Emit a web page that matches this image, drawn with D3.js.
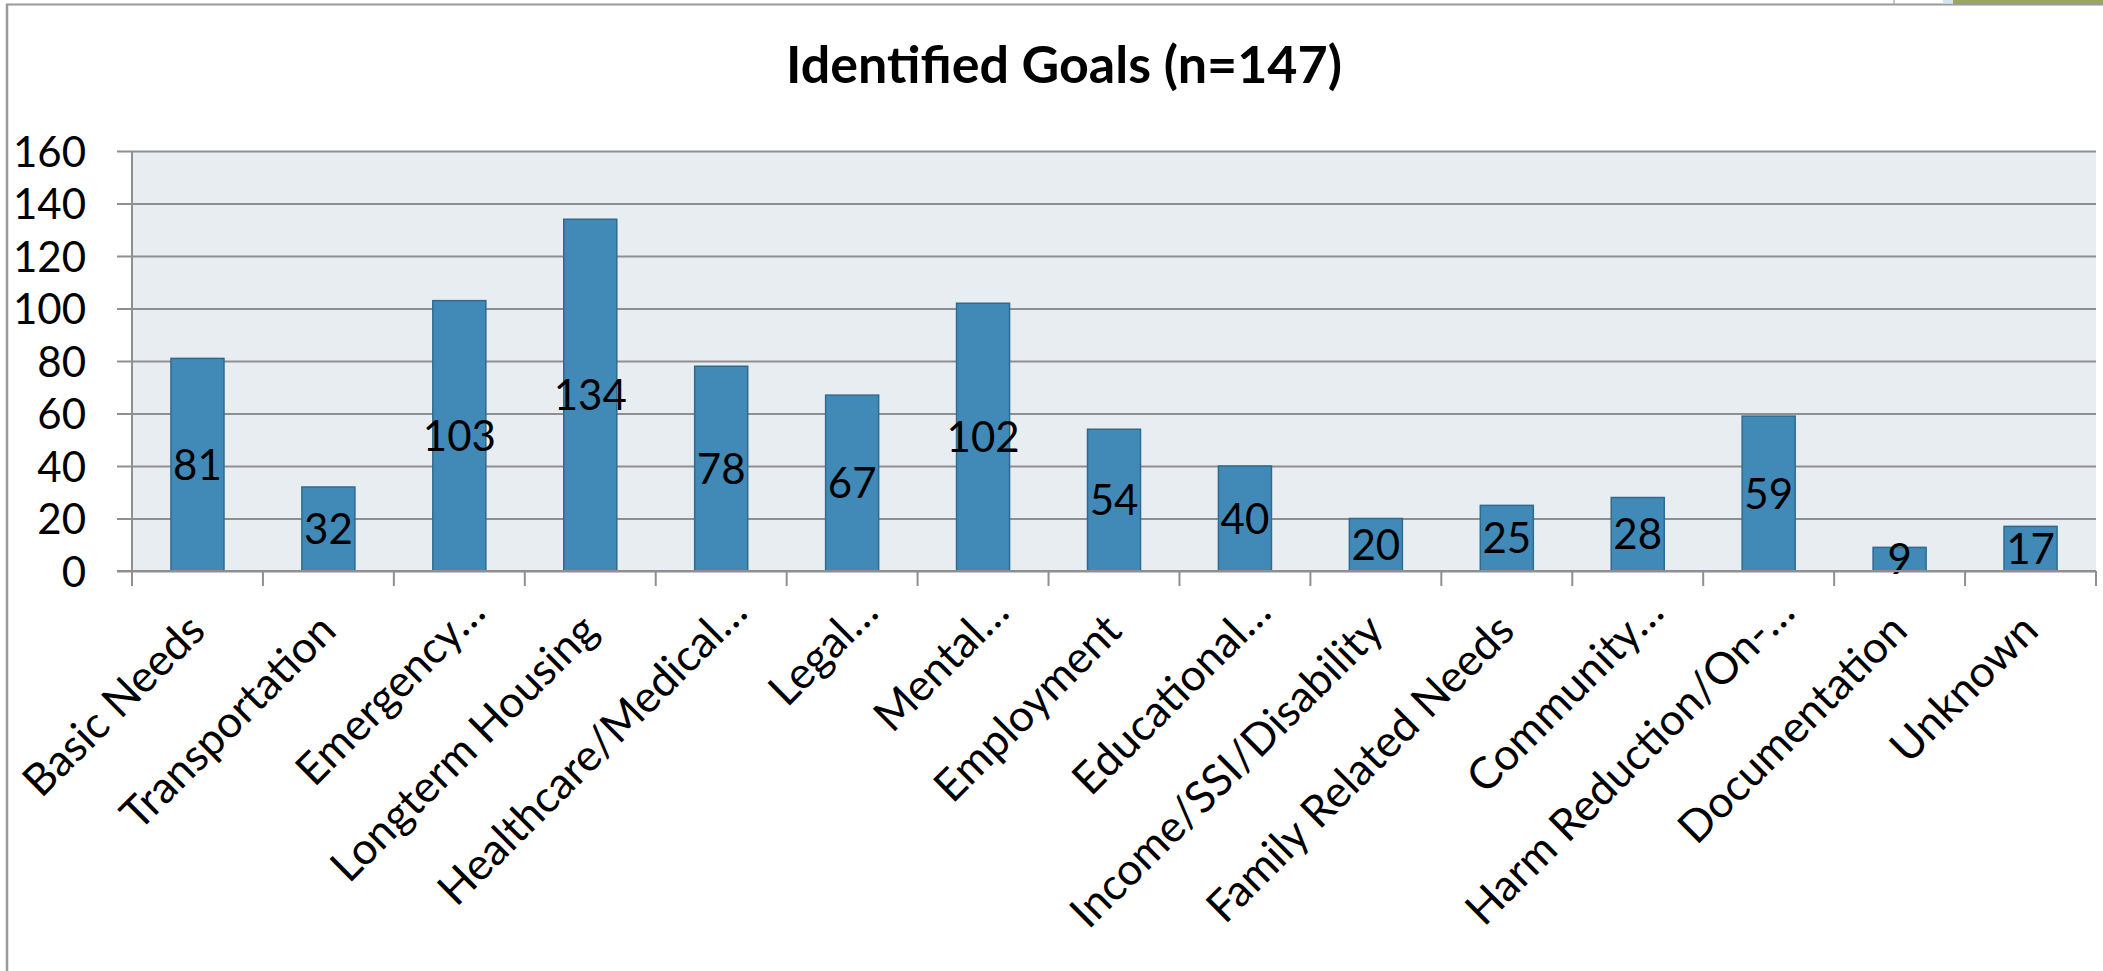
<!DOCTYPE html>
<html>
<head>
<meta charset="utf-8">
<script src="https://cdn.jsdelivr.net/npm/d3@7"></script>
<style>
  body { margin: 0; background: #fff; }
  svg { display: block; }
  text { font-family: Lato, "Open Sans", sans-serif; fill: #000; }
</style>
</head>
<body>
<div id="app"></div>
<script>
const categories = [
  'Basic Needs', 'Transportation', 'Emergency…', 'Longterm Housing',
  'Healthcare/Medical…', 'Legal…', 'Mental…', 'Employment', 'Educational…',
  'Income/SSI/Disability', 'Family Related Needs', 'Community…',
  'Harm Reduction/On-…', 'Documentation', 'Unknown'
]
const goals = [81, 32, 103, 134, 78, 67, 102, 54, 40, 20, 25, 28, 59, 9, 17]
const yTicks = [0, 20, 40, 60, 80, 100, 120, 140, 160]

const W = 2103, H = 971
const plot = { left: 132, right: 2096, top: 151, bottom: 571 }

let svg = d3.select('#app').append('svg')
  .attr('width', W)
  .attr('height', H)

// outer chart frame (left + top edge) and the bits of the sheet above it
svg.append('line')
  .attr('x1', 7).attr('x2', 7).attr('y1', 4).attr('y2', H)
  .style('stroke', '#9a9a9a').style('stroke-width', 2.5)
svg.append('line')
  .attr('x1', 6).attr('x2', W).attr('y1', 4.5).attr('y2', 4.5)
  .style('stroke', '#9a9a9a').style('stroke-width', 2)
svg.append('line')
  .attr('x1', 1894).attr('x2', 1894).attr('y1', 0).attr('y2', 4)
  .style('stroke', '#b0b0b0').style('stroke-width', 1.5)
svg.append('rect')
  .attr('x', 1943).attr('y', 0).attr('width', 10).attr('height', 3.5)
  .style('fill', '#d4e3ee')
svg.append('rect')
  .attr('x', 1953).attr('y', 0).attr('width', W - 1953).attr('height', 4)
  .style('fill', '#9ba75e')

let x = d3.scaleBand()
  .domain(categories)
  .range([plot.left, plot.right])
  .padding(0)

let y = d3.scaleLinear()
  .domain([0, 160])
  .range([plot.bottom, plot.top])

// plot area
svg.append('rect')
  .attr('x', plot.left)
  .attr('y', plot.top)
  .attr('width', plot.right - plot.left)
  .attr('height', plot.bottom - plot.top)
  .style('fill', '#e8edf2')

// gridlines
svg.append('g')
  .attr('class', 'grid')
  .attr('transform', `translate(${plot.left},0)`)
  .call(d3.axisLeft(y).tickValues(yTicks).tickSize(-(plot.right - plot.left)).tickFormat(''))
  .call(g => g.select('.domain').remove())
  .call(g => g.selectAll('line').style('stroke', '#8f8f8f').style('stroke-width', 2))

// y axis
svg.append('g')
  .attr('class', 'y-axis')
  .attr('transform', `translate(${plot.left},0)`)
  .call(d3.axisLeft(y).tickValues(yTicks).tickSize(15).tickPadding(31))
  .call(g => g.select('.domain').remove())
  .call(g => g.selectAll('line').style('stroke', '#8f8f8f').style('stroke-width', 2))
  .call(g => g.selectAll('text')
    .style('font-size', '42px')
    .attr('dy', '0.36em'))

svg.append('line')
  .attr('x1', plot.left).attr('x2', plot.left)
  .attr('y1', plot.top).attr('y2', plot.bottom)
  .style('stroke', '#8f8f8f').style('stroke-width', 2)

// bars
const barW = x.bandwidth() * 0.405
svg.append('g')
  .selectAll('rect')
  .data(goals)
  .enter()
  .append('rect')
  .attr('x', (d, i) => x(categories[i]) + (x.bandwidth() - barW) / 2)
  .attr('y', d => y(d))
  .attr('width', barW)
  .attr('height', d => y(0) - y(d))
  .style('fill', '#4189b6')
  .style('stroke', '#2f6b8f')
  .style('stroke-width', 1.5)

// value labels, centred in the bar
svg.append('g')
  .selectAll('text')
  .data(goals)
  .enter()
  .append('text')
  .attr('x', (d, i) => x(categories[i]) + x.bandwidth() / 2)
  .attr('y', d => y(d / 2))
  .attr('dy', '0.36em')
  .style('text-anchor', 'middle')
  .style('font-size', '42px')
  .text(d => d)

// x axis line and category boundary ticks
svg.append('line')
  .attr('x1', plot.left - 15).attr('x2', plot.right)
  .attr('y1', plot.bottom).attr('y2', plot.bottom)
  .style('stroke', '#8f8f8f').style('stroke-width', 2)

let bounds = categories.map(c => x(c)).concat([plot.right])
svg.append('g')
  .selectAll('line')
  .data(bounds)
  .enter()
  .append('line')
  .attr('x1', d => d).attr('x2', d => d)
  .attr('y1', plot.bottom).attr('y2', plot.bottom + 15)
  .style('stroke', '#8f8f8f').style('stroke-width', 2)

// rotated category labels (truncated ones sit a bit further along the baseline)
svg.append('g')
  .selectAll('text')
  .data(categories)
  .enter()
  .append('text')
  .attr('transform', d => `translate(${x(d) + x.bandwidth() / 2 + 10},633) rotate(-45)`)
  .attr('dx', d => d.endsWith('…') ? 26 : 0)
  .style('text-anchor', 'end')
  .style('font-size', '44px')
  .text(d => d)

// title
svg.append('text')
  .attr('x', 1064)
  .attr('y', 83)
  .style('text-anchor', 'middle')
  .style('font-size', '52px')
  .style('font-weight', 'bold')
  .text('Identified Goals (n=147)')
</script>
</body>
</html>
